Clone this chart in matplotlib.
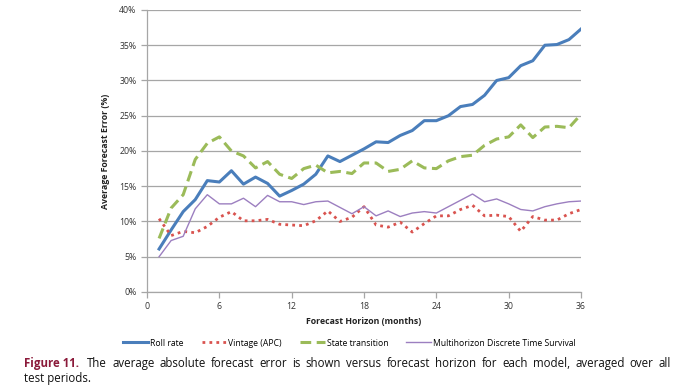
import matplotlib
matplotlib.use('Agg')
import matplotlib.pyplot as plt
from matplotlib.ticker import FuncFormatter

plt.rcParams['font.family'] = ['Open Sans', 'DejaVu Sans']

# ---- data ----
horizon = list(range(1, 37))

roll_rate = [6.1, 8.8, 11.4, 13.1, 15.8, 15.6, 17.2, 15.3, 16.3, 15.4, 13.6, 14.4,
             15.3, 16.7, 19.3, 18.5, 19.4, 20.3, 21.3, 21.2, 22.2, 22.9, 24.3, 24.3,
             25.0, 26.3, 26.6, 27.9, 30.0, 30.4, 32.1, 32.8, 35.0, 35.1, 35.8, 37.3]

vintage = [10.4, 8.0, 8.6, 8.4, 9.3, 10.6, 11.4, 10.1, 10.1, 10.3, 9.6, 9.5,
           9.4, 10.1, 11.5, 10.0, 10.6, 12.1, 9.5, 9.2, 9.9, 8.5, 9.7, 10.8,
           10.8, 11.7, 12.3, 10.8, 10.9, 10.7, 8.6, 10.7, 10.2, 10.2, 11.1, 11.7]

state_transition = [7.6, 11.9, 13.8, 18.8, 21.1, 22.0, 20.0, 19.3, 17.6, 18.5, 16.7, 16.1,
                    17.5, 18.0, 16.9, 17.1, 16.8, 18.3, 18.3, 17.1, 17.4, 18.6, 17.6, 17.5,
                    18.6, 19.2, 19.4, 20.8, 21.7, 22.0, 23.7, 21.9, 23.4, 23.5, 23.3, 25.2]

multihorizon = [5.0, 7.3, 7.9, 11.8, 13.8, 12.5, 12.5, 13.3, 12.1, 13.7, 12.8, 12.8,
                12.4, 12.8, 12.9, 12.0, 11.1, 12.1, 10.8, 11.5, 10.7, 11.2, 11.4, 11.2,
                12.1, 13.0, 13.9, 12.8, 13.2, 12.5, 11.7, 11.5, 12.1, 12.5, 12.8, 12.9]

x_ticks = [0, 6, 12, 18, 24, 30, 36]
y_ticks = [0, 5, 10, 15, 20, 25, 30, 35, 40]

caption = ('The average absolute forecast error is shown versus forecast horizon '
           'for each model, averaged over all')

fig = plt.figure(figsize=(6.88, 3.90), dpi=100)
ax = fig.add_axes([0.2137, 0.2513, 0.6308, 0.7231])

l1, = ax.plot(horizon, roll_rate, color='#4A7EBB', lw=2.2, label='Roll rate')
l2, = ax.plot(horizon, vintage, color='#D9534F', lw=2.0, ls=(0, (1, 1.5)), label='Vintage (APC)')
l3, = ax.plot(horizon, state_transition, color='#9BBB59', lw=2.2, ls=(0, (3.5, 1.8)), label='State transition')
l4, = ax.plot(horizon, multihorizon, color='#9C7FC0', lw=1.0, label='Multihorizon Discrete Time Survival')

ax.set_xlim(0, 36)
ax.set_ylim(0, 40)
ax.set_xticks(x_ticks)
ax.set_yticks(y_ticks)
ax.yaxis.set_major_formatter(FuncFormatter(lambda v, p: f'{int(v)}%'))
ax.grid(axis='y', color='#A6A6A6', lw=0.9)
ax.set_axisbelow(True)
for s in ['top', 'right']:
    ax.spines[s].set_visible(False)
for s in ['left', 'bottom']:
    ax.spines[s].set_color('#A6A6A6')
    ax.spines[s].set_linewidth(0.9)
ax.tick_params(axis='both', colors='#A6A6A6', labelcolor='#333333', labelsize=6.3, length=4, width=0.9)

ax.set_xlabel('Forecast Horizon (months)', fontsize=6.3, fontweight='bold', color='#222222', labelpad=4)
ax.set_ylabel('Average Forecast Error (%)', fontsize=6.3, fontweight='bold', color='#222222', labelpad=7)

fig.legend(handles=[l1, l2, l3, l4], loc='center', bbox_to_anchor=(0.508, 0.1205), ncol=4,
           frameon=False, fontsize=6.2, handlelength=2.9, columnspacing=2.1, handletextpad=0.2)

# caption, justified by hand between two x positions
fig.text(0.035, 0.068, 'Figure 11.', fontsize=8.3, fontweight='bold', color='#8B1A3A', va='center')
renderer = fig.canvas.get_renderer()
words = caption.split()
x0, x1 = 87, 671
items = [fig.text(0, 0.068, w, fontsize=8.3, color='#111111', va='center') for w in words]
widths = [t.get_window_extent(renderer).width for t in items]
gap = (x1 - x0 - sum(widths)) / (len(words) - 1)
xpos = x0
for t, w in zip(items, widths):
    t.set_x(xpos / 688)
    xpos += w + gap
fig.text(0.035, 0.03, 'test periods.', fontsize=8.3, color='#111111', va='center')

fig.savefig('out.png', dpi=100)
